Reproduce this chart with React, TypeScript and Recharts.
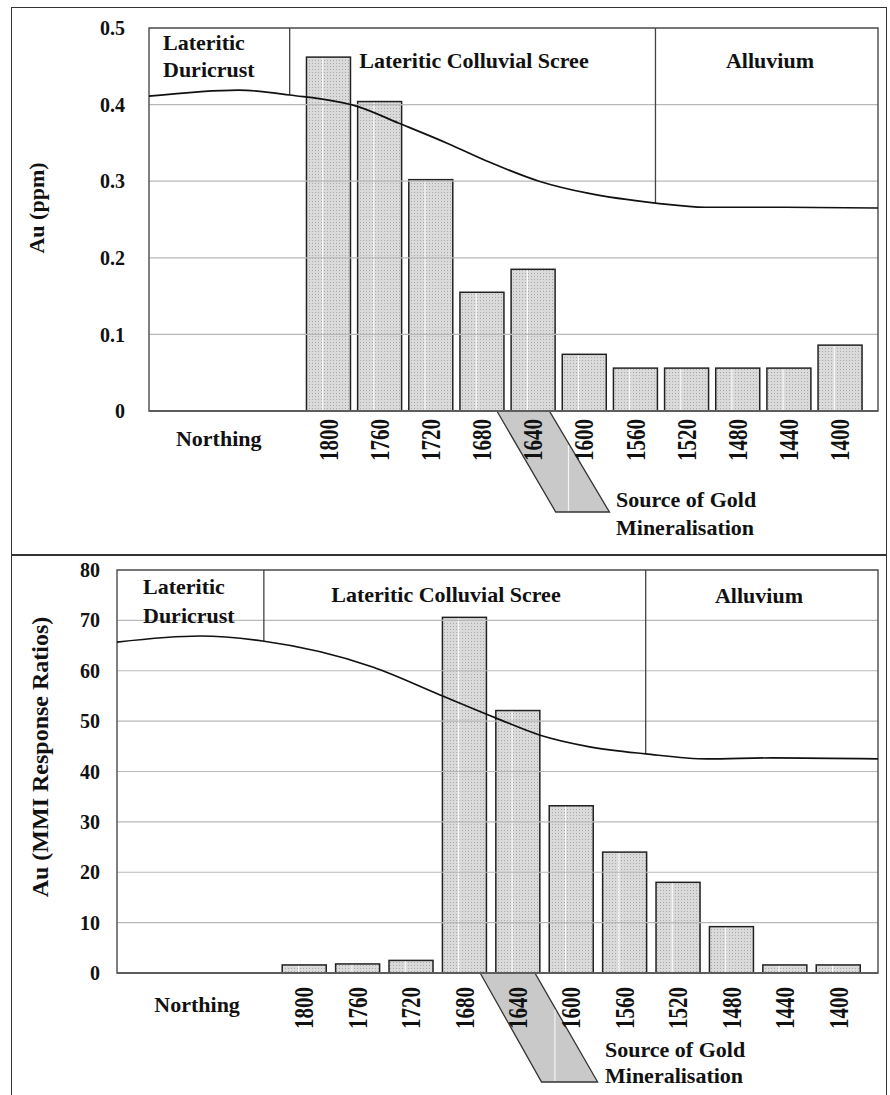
import { BarChart, Bar, XAxis, YAxis, CartesianGrid, LineChart, Line, ReferenceArea, ReferenceLine } from 'recharts';

// categories along the traverse (first three slots hold the "Northing" caption)
const northings = ['', 'Northing', ' ', '1800', '1760', '1720', '1680', '1640', '1600', '1560', '1520', '1480', '1440', '1400'];
const auPpm = [null, null, null, 0.462, 0.404, 0.302, 0.155, 0.185, 0.074, 0.056, 0.056, 0.056, 0.056, 0.086];
const auMmi = [null, null, null, 1.6, 1.8, 2.5, 70.6, 52.1, 33.2, 24.0, 18.0, 9.2, 1.6, 1.6];
const ppmTicks = [0, 0.1, 0.2, 0.3, 0.4, 0.5];
const mmiTicks = [0, 10, 20, 30, 40, 50, 60, 70, 80];

// ground profile sketched over each chart (northing, value on chart axis)
const profileN1 = [1940, 1870, 1830, 1776, 1745, 1706, 1674, 1635, 1596, 1544, 1505, 1453, 1370];
const profilePpm = [0.411, 0.419, 0.4125, 0.397, 0.376, 0.349, 0.325, 0.3, 0.284, 0.2715, 0.266, 0.266, 0.265];
const profileN2 = [1940, 1878, 1831, 1748, 1698, 1656, 1623, 1586, 1544, 1498, 1449, 1370];
const profileMmi = [65.7, 66.9, 65.9, 60.7, 55.2, 50.6, 47.2, 44.9, 43.5, 42.5, 42.7, 42.5];

// regolith boundaries (northing) and where they meet the profile
const boundaryN = [1830, 1544];
const boundaryPpm = [0.4125, 0.2715];
const boundaryMmi = [65.9, 43.5];

// source of gold mineralisation wedge (northing at top and bottom edges)
const sourceTop = [1668, 1627];
const sourceBottom = [1622, 1580];
const sourceHighlight = 1612;

const N_DOMAIN: [number, number] = [1370, 1940];

const serif = "'Liberation Serif', 'Times New Roman', serif";
const txt = (size: number) => ({ fontFamily: serif, fontWeight: 700, fontSize: size, fill: '#111' });

const ppmData = northings.map((n, i) => ({ n, v: auPpm[i] }));
const mmiData = northings.map((n, i) => ({ n, v: auMmi[i] }));
const profile1 = profileN1.map((n, i) => ({ n, v: profilePpm[i] }));
const profile2 = profileN2.map((n, i) => ({ n, v: profileMmi[i] }));
const wedgeData = [{ n: sourceTop[0], v: 0 }, { n: sourceBottom[1], v: 1 }];

const PatternBar = (props: any) => {
    const { x, y, width, height } = props;
    if (!height || height <= 0) return <g />;
    const lx = x + width * 0.37;
    return (
        <g>
            <rect x={x} y={y} width={width} height={height} fill="url(#dotFill)" stroke="#222" strokeWidth={1.5} />
            <line x1={lx} x2={lx} y1={y + 1} y2={y + height - 1} stroke="#fff" strokeWidth={1} />
        </g>
    );
};

const makeTick = (rotDy: number, nDx: number, nDy: number) => (props: any) => {
    const { x, y, payload } = props;
    const v = String(payload.value);
    if (v === 'Northing') {
        return <text x={x + nDx} y={y + nDy} textAnchor="middle" style={txt(22)}>Northing</text>;
    }
    if (!v.trim()) return <g />;
    return (
        <text transform={`translate(${x},${y + rotDy}) scale(1.3,1) rotate(-90)`} textAnchor="end" dy="0.35em" style={txt(21)}>
            {v}
        </text>
    );
};

const Wedge = (props: any) => {
    const { x, y, width, height } = props;
    const span = sourceTop[0] - sourceBottom[1];
    const px = (n: number) => x + ((sourceTop[0] - n) / span) * width;
    const pts = [
        [px(sourceTop[0]), y],
        [px(sourceTop[1]), y],
        [px(sourceBottom[1]), y + height],
        [px(sourceBottom[0]), y + height],
    ].map(p => p.join(',')).join(' ');
    const hx = px(sourceHighlight);
    const hy = y + height * (sourceTop[1] - sourceHighlight) / (sourceTop[1] - sourceBottom[1]);
    return (
        <g>
            <polygon points={pts} fill="#c9c9c9" stroke="#333" strokeWidth={1.3} />
            <line x1={hx} x2={hx} y1={hy + 2} y2={y + height - 1} stroke="#f4f4f4" strokeWidth={1.2} />
        </g>
    );
};

interface PanelProps {
    top: number;
    height: number;
    plotTop: number;
    plotBottom: number;
    plotLeft: number;
    wedgeBottom: number;
    data: any[];
    ticks: number[];
    profile: any[];
    boundaries: number[];
    tickMargin: number;
    rotDy: number;
    nDx: number;
    nDy: number;
}

function Panel(p: PanelProps) {
    const W = 890;
    const right = 12;
    const max = p.ticks[p.ticks.length - 1];
    const plotW = W - right - p.plotLeft;
    const padRight = plotW * 10 / 570;
    const box = { position: 'absolute' as const, left: 0, top: p.top };
    return (
        <>
            <div style={box}>
                <LineChart width={W} height={p.height} data={wedgeData}
                    margin={{ top: p.plotBottom - p.top, right, left: p.plotLeft, bottom: p.top + p.height - p.wedgeBottom }}>
                    <XAxis type="number" dataKey="n" domain={N_DOMAIN} reversed hide />
                    <YAxis type="number" domain={[0, 1]} hide />
                    <Line dataKey="v" stroke="none" dot={false} isAnimationActive={false} />
                    <ReferenceArea x1={sourceTop[0]} x2={sourceBottom[1]} y1={0} y2={1} shape={(s: any) => <Wedge {...s} />} />
                </LineChart>
            </div>
            <div style={box}>
                <BarChart width={W} height={p.height} data={p.data}
                    margin={{ top: p.plotTop - p.top, right, left: p.plotLeft - 60, bottom: p.top + p.height - p.plotBottom - 100 }}>
                    <defs>
                        <pattern id="dotFill" width="3" height="3" patternUnits="userSpaceOnUse">
                            <rect width="3" height="3" fill="#dadada" />
                            <rect width="1" height="1" fill="#a9a9a9" />
                        </pattern>
                    </defs>
                    <XAxis dataKey="n" interval={0} height={100} tickLine={false} tickSize={0} tickMargin={0}
                        padding={{ left: 0, right: padRight }}
                        axisLine={{ stroke: '#333', strokeWidth: 2 }}
                        tick={makeTick(p.rotDy, p.nDx, p.nDy)} />
                    <YAxis width={60} domain={[0, max]} ticks={p.ticks} interval={0} tickLine={false} tickSize={0}
                        tickMargin={p.tickMargin} axisLine={false} tick={txt(20)} />
                    <Bar dataKey="v" barSize={44} isAnimationActive={false} shape={<PatternBar />} />
                </BarChart>
            </div>
            <div style={box}>
                <LineChart width={W} height={p.height} data={p.profile}
                    margin={{ top: p.plotTop - p.top, right, left: p.plotLeft, bottom: p.top + p.height - p.plotBottom }}>
                    <CartesianGrid vertical={false} stroke="#b8b8b8" strokeWidth={1.2} />
                    <XAxis type="number" dataKey="n" domain={N_DOMAIN} reversed hide />
                    <YAxis type="number" domain={[0, max]} ticks={p.ticks} hide />
                    <ReferenceArea x1={N_DOMAIN[0]} x2={N_DOMAIN[1]} y1={0} y2={max} fill="none" stroke="#555" strokeWidth={1.5} />
                    {boundaryN.map((n, i) => (
                        <ReferenceLine key={n} segment={[{ x: n, y: max }, { x: n, y: p.boundaries[i] }]} stroke="#444" strokeWidth={1.3} />
                    ))}
                    <Line type="monotone" dataKey="v" stroke="#111" strokeWidth={1.7} dot={false} isAnimationActive={false} />
                </LineChart>
            </div>
        </>
    );
}

export default function App() {
    const frame = { position: 'absolute' as const, left: 11, width: 876, border: '1.5px solid #333', boxSizing: 'border-box' as const };
    return (
        <div style={{ position: 'absolute', left: 0, top: 0, width: 890, height: 1095, overflow: 'hidden', background: '#fff' }}>
            <div style={{ ...frame, top: 7, height: 548 }} />
            <div style={{ ...frame, top: 555, height: 560 }} />
            <Panel top={0} height={560} plotTop={28} plotBottom={411} plotLeft={149} wedgeBottom={512}
                data={ppmData} ticks={ppmTicks} profile={profile1} boundaries={boundaryPpm}
                tickMargin={24} rotDy={8} nDx={-7} nDy={35} />
            <Panel top={545} height={550} plotTop={570} plotBottom={973} plotLeft={117} wedgeBottom={1082}
                data={mmiData} ticks={mmiTicks} profile={profile2} boundaries={boundaryMmi}
                tickMargin={17} rotDy={14} nDx={0} nDy={39} />
            <svg width={890} height={1095} style={{ position: 'absolute', left: 0, top: 0, pointerEvents: 'none' }}>
                <text transform="translate(44,208) rotate(-90)" textAnchor="middle" style={txt(22)}>Au (ppm)</text>
                <text transform="translate(48,757) rotate(-90)" textAnchor="middle" style={txt(24)}>Au (MMI Response Ratios)</text>

                <text x={163} y={50} style={txt(22)}>Lateritic</text>
                <text x={163} y={77} style={txt(22)}>Duricrust</text>
                <text x={474} y={68} textAnchor="middle" style={txt(22)}>Lateritic Colluvial Scree</text>
                <text x={770} y={68} textAnchor="middle" style={txt(22)}>Alluvium</text>
                <text x={616} y={507} style={txt(22)}>Source of Gold</text>
                <text x={616} y={535} style={txt(22)}>Mineralisation</text>

                <text x={143} y={594} style={txt(22)}>Lateritic</text>
                <text x={143} y={623} style={txt(22)}>Duricrust</text>
                <text x={446} y={602} textAnchor="middle" style={txt(22)}>Lateritic Colluvial Scree</text>
                <text x={759} y={603} textAnchor="middle" style={txt(22)}>Alluvium</text>
                <text x={605} y={1057} style={txt(22)}>Source of Gold</text>
                <text x={605} y={1083} style={txt(22)}>Mineralisation</text>
            </svg>
        </div>
    );
}
